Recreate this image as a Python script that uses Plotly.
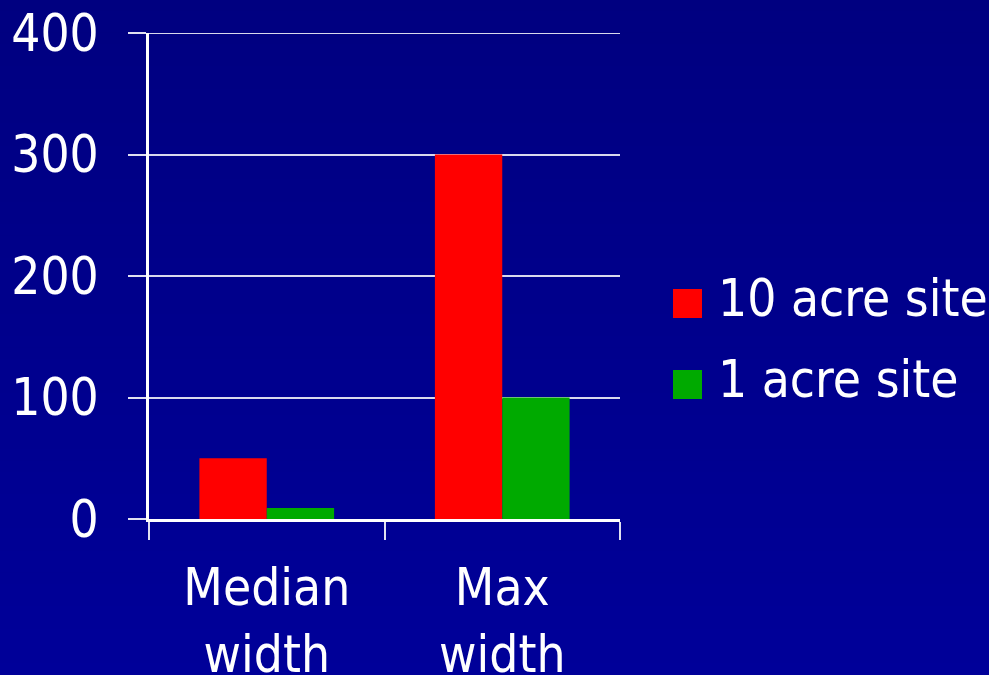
import plotly.graph_objects as go

# Chart data
categories = ["Median<br>width", "Max<br>width"]
series_names = ["10 acre site", "1 acre site"]
series_colors = ["#FF0000", "#00AA00"]
ten_acre = [50, 300]
one_acre = [9, 100]
y_ticks = [0, 100, 200, 300, 400]

FONT = "DejaVu Sans Condensed, DejaVu Sans, sans-serif"
FS = 51
GRID = "#d8d8ec"

fig = go.Figure()
for name, color, vals in zip(series_names, series_colors, [ten_acre, one_acre]):
    fig.add_trace(go.Bar(
        x=categories, y=vals, name=name,
        marker=dict(color=color, line=dict(width=0)),
        showlegend=False,
    ))

# Vertical background gradient (navy, slightly brighter towards the bottom)
shapes = []
n_bands = 60
top_paper, bottom_paper = 1.0679, -0.3210
for i in range(n_bands):
    y0 = top_paper + (bottom_paper - top_paper) * i / n_bands
    y1 = top_paper + (bottom_paper - top_paper) * (i + 1) / n_bands
    t = (i + 0.5) / n_bands
    b = int(round(128 + (153 - 128) * t))
    shapes.append(dict(
        type="rect", xref="paper", yref="paper",
        x0=-0.4, x1=1.9, y0=y1 - 0.002, y1=y0 + 0.002,
        fillcolor=f"rgb(0,0,{b})", line=dict(width=0), layer="below",
    ))

# Gridline at the top of the value range
shapes.append(dict(type="line", xref="paper", yref="y", x0=0, x1=1,
                   y0=y_ticks[-1], y1=y_ticks[-1],
                   line=dict(color=GRID, width=2), layer="below"))

# Legend keys drawn as large square swatches with labels
annotations = []
legend_px_top = [289, 370]
plot_top, plot_h = 33, 486
plot_left, plot_w = 149, 471
for name, color, top in zip(series_names, series_colors, legend_px_top):
    x0 = (673 - plot_left) / plot_w
    x1 = (702 - plot_left) / plot_w
    y1 = 1 - (top - plot_top) / plot_h
    y0 = 1 - (top + 29 - plot_top) / plot_h
    shapes.append(dict(type="rect", xref="paper", yref="paper",
                       x0=x0, x1=x1, y0=y0, y1=y1,
                       fillcolor=color, line=dict(width=0)))
    annotations.append(dict(
        text=name, xref="paper", yref="paper",
        x=(716 - plot_left) / plot_w, y=(y0 + y1) / 2 + 5 / plot_h,
        xanchor="left", yanchor="middle", showarrow=False,
        font=dict(family=FONT, size=FS, color="white"),
    ))

fig.update_layout(
    width=989, height=675,
    margin=dict(l=149, r=369, t=33, b=156),
    paper_bgcolor="rgb(0,0,128)",
    plot_bgcolor="rgba(0,0,0,0)",
    barmode="group", bargap=0.428, bargroupgap=0,
    font=dict(family=FONT, size=FS, color="white"),
    shapes=shapes, annotations=annotations,
    showlegend=False,
)
fig.update_xaxes(
    automargin=False,
    showline=True, linecolor="white", linewidth=3,
    ticks="outside", ticklen=18, tickwidth=2, tickcolor="#e0e0f0",
    tickson="boundaries", showgrid=False, ticklabelstandoff=22,
    tickfont=dict(family=FONT, size=FS, color="white"),
)
fig.update_yaxes(
    automargin=False,
    range=[0, 400], tickvals=y_ticks,
    showline=True, linecolor="white", linewidth=3,
    ticks="outside", ticklen=18, tickwidth=2, tickcolor="#e0e0f0",
    showgrid=True, gridcolor=GRID, gridwidth=2,
    zeroline=False, ticklabelstandoff=19,
    tickfont=dict(family=FONT, size=FS, color="white"),
)

fig.write_html("out.html")
